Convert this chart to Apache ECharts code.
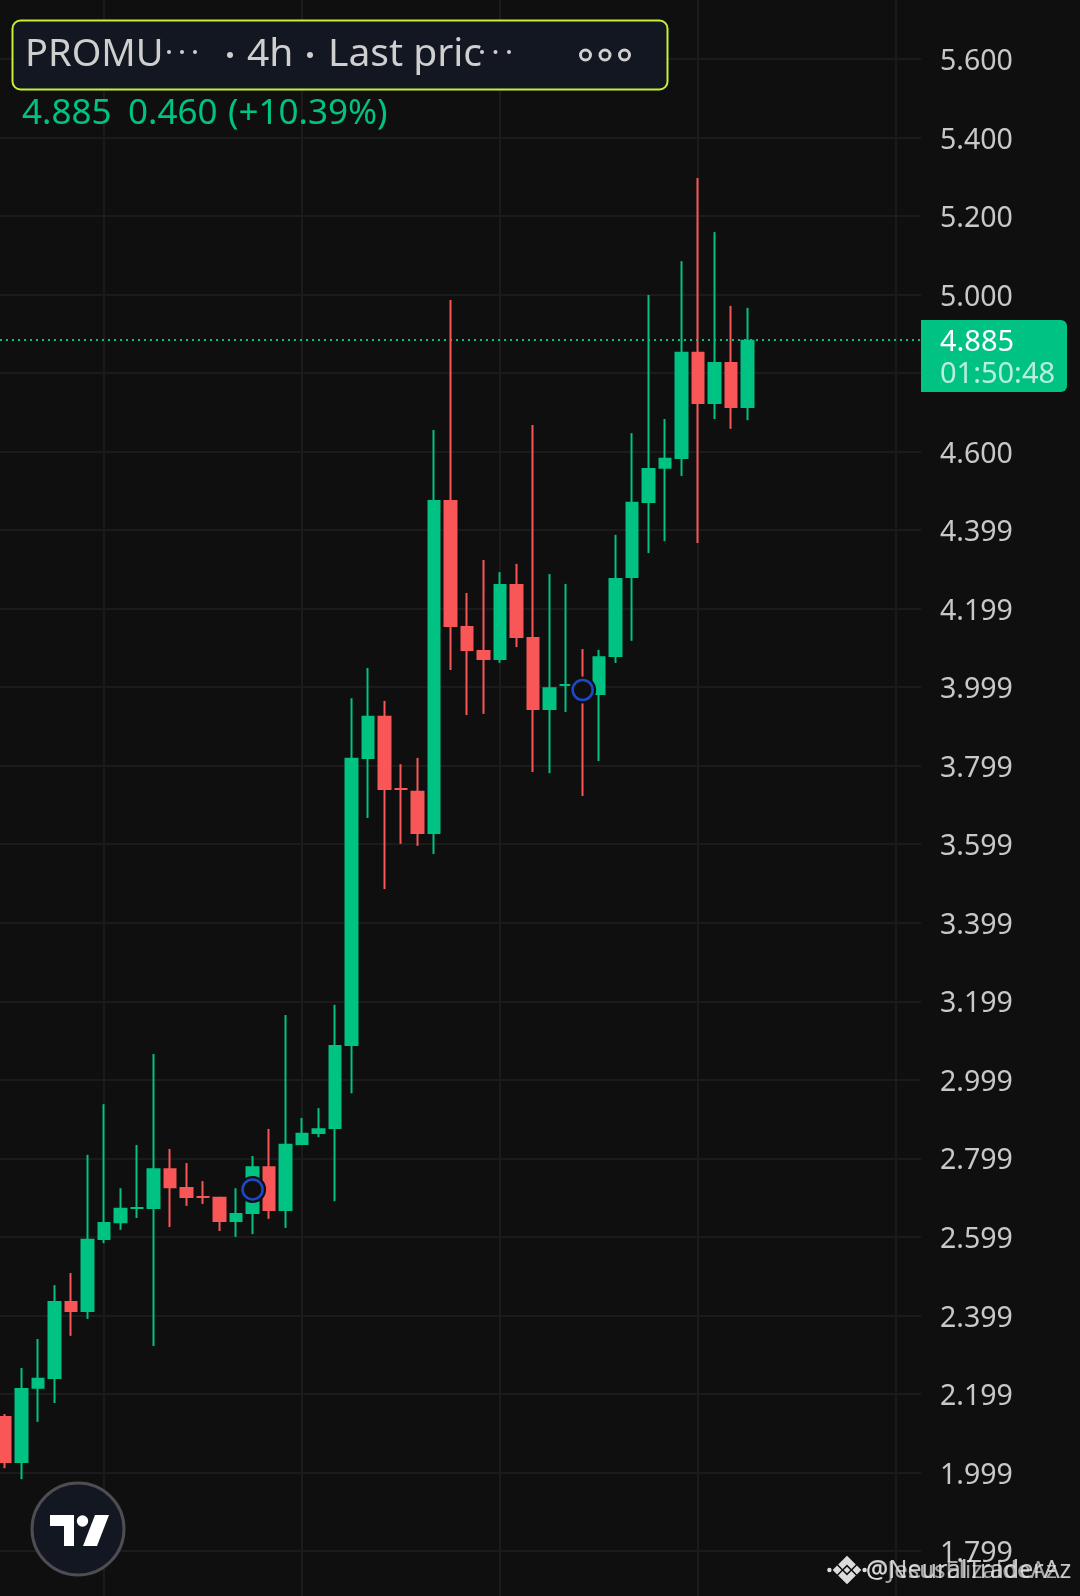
<!DOCTYPE html>
<html>
<head>
<meta charset="utf-8">
<style>html,body{margin:0;padding:0;background:#0f0f0f}#c{width:1080px;height:1596px}</style>
<script src="https://cdn.jsdelivr.net/npm/echarts@6/dist/echarts.min.js"></script>
</head>
<body>
<div id="c"></div>
<script>
const opens  = [2.144,2.024,2.213,2.238,2.437,2.409,2.592,2.635,2.671,2.671,2.775,2.727,2.704,2.702,2.638,2.658,2.780,2.666,2.834,2.862,2.875,3.086,3.817,3.927,3.743,3.736,3.626,4.477,4.156,4.095,4.069,4.263,4.128,3.942,4.003,4.003,3.980,4.077,4.278,4.469,4.556,4.581,4.854,4.721,4.828,4.711];
const closes = [2.024,2.215,2.241,2.437,2.409,2.595,2.638,2.674,2.676,2.775,2.724,2.699,2.699,2.638,2.661,2.780,2.666,2.837,2.865,2.877,3.089,3.820,3.927,3.738,3.738,3.626,4.477,4.153,4.092,4.069,4.263,4.125,3.942,4.000,4.008,3.980,4.079,4.278,4.472,4.558,4.584,4.854,4.721,4.828,4.711,4.885];
const lows   = [2.011,1.983,2.129,2.177,2.348,2.391,2.584,2.618,2.648,2.322,2.625,2.679,2.684,2.615,2.600,2.607,2.646,2.623,2.834,2.854,2.691,2.966,3.667,3.486,3.601,3.596,3.575,4.044,3.929,3.932,4.062,4.102,3.784,3.781,3.937,3.723,3.812,4.062,4.118,4.342,4.372,4.538,4.367,4.683,4.658,4.680];
const highs  = [2.149,2.266,2.340,2.477,2.508,2.809,2.938,2.724,2.834,3.066,2.824,2.788,2.742,2.702,2.724,2.806,2.875,3.165,2.903,2.928,3.191,3.972,4.049,3.965,3.804,3.820,4.655,4.986,4.240,4.324,4.293,4.314,4.668,4.288,4.263,4.097,4.095,4.388,4.647,4.999,4.683,5.085,5.297,5.159,4.971,4.966];
const emptySlots = 10;
const markerIdx = [15, 35];
const markerVal = [2.721, 3.993];
const verticalIdx = [6, 18, 30, 42, 54];
const lastPrice = 4.885;
const tickLabels = {'1.8':'1.799','2.0':'1.999','2.2':'2.199','2.4':'2.399','2.6':'2.599','2.8':'2.799','3.0':'2.999','3.2':'3.199','3.4':'3.399','3.6':'3.599','3.8':'3.799','4.0':'3.999','4.2':'4.199','4.4':'4.399','4.6':'4.600','5.0':'5.000','5.2':'5.200','5.4':'5.400','5.6':'5.600'};

const categories = opens.map((_, i) => String(i));
for (let i = 0; i < emptySlots; i++) categories.push(String(opens.length + i));
const candles = opens.map((o, i) => [o, closes[i], lows[i], highs[i]]);
const markers = markerIdx.map((x, i) => [String(x), markerVal[i]]);

const FONT = '"Noto Sans"';
const GREEN = '#00c283', RED = '#f95757', BG = '#0f0f0f', GRID = '#1b1b1b', HEAD = '#cfcfcf', LOGO = '#dcdcdc';
const txt = (x, y, text, size, fill, extra) => ({type:'text', z:100, style:Object.assign({x, y, text, fill, font:size+'px '+FONT, textVerticalAlign:'middle'}, extra||{})});
const dot = (cx, cy, r) => ({type:'circle', z:100, shape:{cx, cy, r}, style:{fill:HEAD}});
const ring = cx => ({type:'circle', z:100, shape:{cx, cy:55, r:5}, style:{fill:'none', stroke:HEAD, lineWidth:3}});

const chart = echarts.init(document.getElementById('c'), null, {renderer:'canvas'});
chart.setOption({
  animation:false,
  backgroundColor:BG,
  grid:{left:-3.25, top:-19.59, width:924.25, height:1649.13, containLabel:false, outerBoundsMode:'none'},
  xAxis:{type:'category', data:categories, boundaryGap:true, axisLine:{show:false}, axisTick:{show:false}, axisLabel:{show:false}, splitLine:{show:false}},
  yAxis:{type:'value', position:'right', min:1.6, max:5.8, interval:0.2, scale:true,
    axisLine:{show:false}, axisTick:{show:false},
    axisLabel:{margin:19, color:'#c8c8c8', fontFamily:'Noto Sans', fontSize:28.5, align:'left', verticalAlign:'top', lineHeight:6,
      showMinLabel:false, showMaxLabel:false,
      formatter:v => tickLabels[v.toFixed(1)] || ''},
    splitLine:{show:true, lineStyle:{color:GRID, width:2}}},
  series:[
    {type:'line', z:1, silent:true, data:[], markLine:{silent:true, symbol:'none', z:1, label:{show:false},
      lineStyle:{color:GRID, width:2, type:'solid'}, data:verticalIdx.map(i => ({xAxis:String(i)}))}},
    {name:'wicks', type:'candlestick', z:3, silent:true, barWidth:0, data:candles,
      itemStyle:{color:GREEN, color0:RED, borderColor:GREEN, borderColor0:RED, borderColorDoji:GREEN, borderWidth:2}},
    {name:'bodies', type:'candlestick', z:4, silent:true, barWidth:14, data:candles,
      itemStyle:{color:GREEN, color0:RED, borderWidth:0}},
    {type:'scatter', z:5, silent:true, symbol:'circle', symbolSize:27, data:markers, itemStyle:{color:BG, opacity:1}},
    {type:'scatter', z:6, silent:true, symbol:'circle', symbolSize:20, data:markers, itemStyle:{color:BG, borderColor:'#1d49c9', borderWidth:2.5, opacity:1}}
  ]
});
const priceY = Math.round(chart.convertToPixel({yAxisIndex:0}, lastPrice));
chart.setOption({
  graphic:[
    {type:'line', z:2, silent:true, shape:{x1:0,y1:priceY,x2:921,y2:priceY}, style:{stroke:GREEN, lineWidth:2, lineDash:[2,4]}},
    {type:'rect', z:99, shape:{x:12.5,y:20.5,width:655,height:69,r:8}, style:{fill:'#131722', stroke:'#c6f135', lineWidth:2}},
    txt(25, 55, 'PROMU', 38, HEAD),
    dot(169,52,2), dot(182,52,2), dot(195,52,2),
    dot(230,55,3),
    txt(247, 55, '4h', 39, HEAD),
    dot(310,55,3),
    txt(328, 55, 'Last pric', 39, HEAD),
    dot(482,52,2), dot(495.5,52,2), dot(509,52,2),
    ring(585.5), ring(605), ring(624.5),
    txt(22, 114, '4.885', 35, GREEN),
    txt(128, 114, '0.460', 35, GREEN),
    txt(228, 114, '(+10.39%)', 35, GREEN),
    {type:'rect', z:99, shape:{x:921,y:320,width:146,height:72,r:[0,6,6,0]}, style:{fill:GREEN}},
    txt(940, 343, '4.885', 29, '#ffffff'),
    txt(940, 375, '01:50:48', 29, 'rgba(255,255,255,0.72)'),
    {type:'circle', z:99, shape:{cx:78,cy:1529,r:46}, style:{fill:'#131722', stroke:'#4d4d52', lineWidth:3}},
    {type:'polygon', z:100, shape:{points:[[50,1515],[74,1515],[74,1546],[64,1546],[64,1526],[50,1526]]}, style:{fill:'#fff'}},
    {type:'circle', z:100, shape:{cx:82.5,cy:1521,r:5.7}, style:{fill:'#fff'}},
    {type:'polygon', z:100, shape:{points:[[95,1515],[109,1515],[97,1546],[83,1546]]}, style:{fill:'#fff'}},
    {type:'group', z:100, x:847, y:1570, scaleX:1.1, scaleY:1.1, children:[
      {type:'polygon', shape:{points:[[0,-13],[8,-5],[4,-1],[0,-5],[-4,-1],[-8,-5]]}, style:{fill:LOGO}},
      {type:'polygon', shape:{points:[[0,13],[8,5],[4,1],[0,5],[-4,1],[-8,5]]}, style:{fill:LOGO}},
      {type:'polygon', shape:{points:[[-13,0],[-9,-4],[-5,0],[-9,4]]}, style:{fill:LOGO}},
      {type:'polygon', shape:{points:[[13,0],[9,-4],[5,0],[9,4]]}, style:{fill:LOGO}},
      {type:'polygon', shape:{points:[[0,-3],[3,0],[0,3],[-3,0]]}, style:{fill:LOGO}},
      {type:'circle', shape:{cx:-16,cy:0,r:2}, style:{fill:LOGO}},
      {type:'circle', shape:{cx:16,cy:0,r:2}, style:{fill:LOGO}}
    ]},
    txt(866, 1571, '@NeuralTraderAz', 25, 'rgba(230,230,230,0.85)'),
    txt(866, 1571, '@JesusElizaldeAz', 24, 'rgba(230,230,230,0.7)')
  ]
});
</script>
</body>
</html>
